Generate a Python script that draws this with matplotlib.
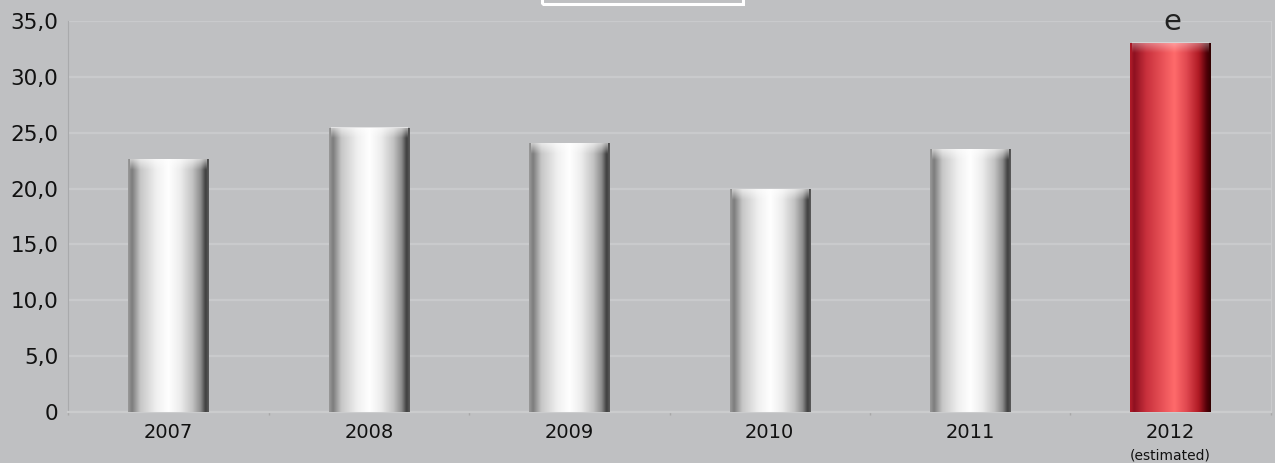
import numpy as np
import matplotlib
matplotlib.use("Agg")
import matplotlib.pyplot as plt
from matplotlib.colors import LinearSegmentedColormap
from matplotlib.patches import Rectangle

# ---- data ----
years = ["2007", "2008", "2009", "2010", "2011", "2012"]
values = [22.6, 25.4, 24.0, 19.9, 23.5, 33.0]
estimated = [False, False, False, False, False, True]
yticks = [0, 5, 10, 15, 20, 25, 30, 35]
ytick_labels = ["0", "5,0", "10,0", "15,0", "20,0", "25,0", "30,0", "35,0"]
marker_label = "e"
note_label = "(estimated)"

BG = "#bfc0c2"
GRID = "#c9cacc"

white_cmap = LinearSegmentedColormap.from_list("w", [
    (0.00, "#9a9a9a"), (0.05, "#7c7c7c"), (0.15, "#c6c6c6"), (0.35, "#f0f0f0"),
    (0.50, "#ffffff"), (0.65, "#ececec"), (0.80, "#c2c2c2"), (0.90, "#8c8c8c"),
    (0.96, "#3e3e3e"), (1.00, "#5c5c5c")])
red_cmap = LinearSegmentedColormap.from_list("r", [
    (0.00, "#b21c2a"), (0.05, "#8e1020"), (0.20, "#c8303c"), (0.45, "#f05a5e"),
    (0.55, "#ff6b6b"), (0.70, "#e04850"), (0.85, "#b01a24"), (0.95, "#500008"),
    (1.00, "#300000")])

fig = plt.figure(figsize=(12.75, 4.63), dpi=100)
fig.patch.set_facecolor(BG)
ax = fig.add_axes([68.3 / 1275, 1 - 412 / 463, (1270.7 - 68.3) / 1275, 391 / 463])
ax.set_facecolor(BG)

x = np.arange(len(years))
bars = ax.bar(x, values, width=0.4, color="none", edgecolor="none", zorder=3)
grad = np.linspace(0, 1, 256).reshape(1, -1)
cap = np.zeros((32, 1, 4))
cap[..., :3] = 1.0
cap[:, 0, 3] = np.linspace(0.75, 0.0, 32)
for b, est in zip(bars, estimated):
    x0, w, h = b.get_x(), b.get_width(), b.get_height()
    ax.imshow(grad, cmap=red_cmap if est else white_cmap, extent=(x0, x0 + w, 0, h),
              aspect="auto", zorder=3, interpolation="bicubic")
    ax.imshow(cap, extent=(x0 + 0.01, x0 + w - 0.01, h - 0.9, h), aspect="auto",
              zorder=4, interpolation="bicubic", alpha=0.5 if est else 0.8)

ax.set_xlim(-0.5, len(years) - 0.5)
ax.set_ylim(0, 35)
ax.set_yticks(yticks)
ax.set_yticklabels(ytick_labels)
ax.set_xticks(x)
ax.set_xticklabels(years)
ax.set_xticks(np.arange(-0.5, len(years), 1), minor=True)
ax.tick_params(axis="y", length=0, pad=7.2, labelsize=15.5, labelcolor="#111111")
ax.tick_params(axis="x", which="major", length=0, pad=8, labelsize=14, labelcolor="#111111")
ax.tick_params(axis="x", which="minor", length=2, color="#a8a8a8", width=1)

ax.yaxis.grid(True, color=GRID, linewidth=1.6, zorder=0)
ax.set_axisbelow(True)
for s in ["top"]:
    ax.spines[s].set_visible(False)
ax.spines["left"].set_color("#a9aaac")
ax.spines["left"].set_linewidth(0.8)
ax.spines["right"].set_color("#cacbcd")
ax.spines["right"].set_linewidth(0.8)
ax.spines["bottom"].set_color("#cbcccd")
ax.spines["bottom"].set_linewidth(1.6)

ax.annotate(marker_label, xy=(x[-1], values[-1]), xytext=(1, 9.4), textcoords="offset points",
            ha="center", va="baseline", fontsize=21, color="#222222", annotation_clip=False)
ax.annotate(note_label, xy=(x[-1], 0), xytext=(0, -26.5), textcoords="offset points",
            ha="center", va="top", fontsize=10, color="#111111", annotation_clip=False)

fig.patches.append(Rectangle((541.5 / 1275, 1 - 4.2 / 463), 201 / 1275, 0.2,
                             transform=fig.transFigure, facecolor="none",
                             edgecolor="white", linewidth=2.2))

fig.savefig("out.png", dpi=100, facecolor=BG)
